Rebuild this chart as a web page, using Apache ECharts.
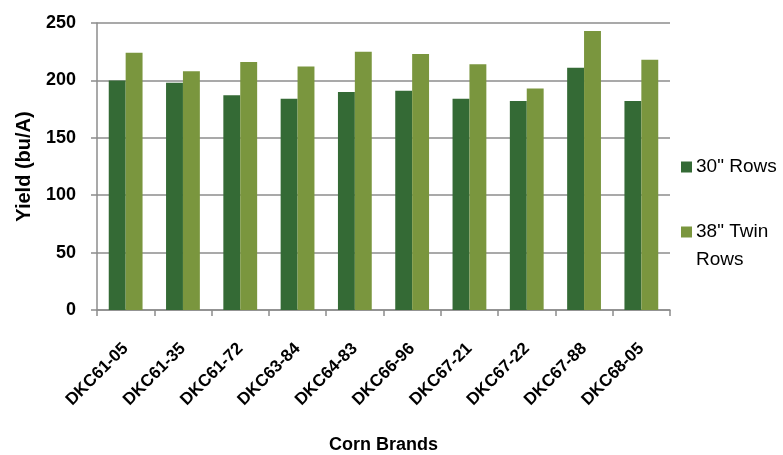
<!DOCTYPE html>
<html>
<head>
<meta charset="utf-8">
<script src="https://cdn.jsdelivr.net/npm/echarts@6/dist/echarts.min.js"></script>
<style>
  html, body { margin: 0; padding: 0; background: #fff; }
  #chart { width: 783px; height: 455px; }
</style>
</head>
<body>
<div id="chart"></div>
<script>
const categories = ['DKC61-05', 'DKC61-35', 'DKC61-72', 'DKC63-84', 'DKC64-83', 'DKC66-96', 'DKC67-21', 'DKC67-22', 'DKC67-88', 'DKC68-05'];
const rows30 = [200, 198, 187, 184, 190, 191, 184, 182, 211, 182];
const twin38 = [224, 208, 216, 212, 225, 223, 214, 193, 243, 218];
const seriesNames = ['30" Rows', '38" Twin Rows'];
const yTicks = [0, 50, 100, 150, 200, 250];

const FONT = '"Liberation Sans", Arial, sans-serif';
const chart = echarts.init(document.getElementById('chart'));
chart.setOption({
  animation: false,
  backgroundColor: '#ffffff',
  grid: { left: 97, right: 113, top: 23, bottom: 145, containLabel: false, outerBoundsMode: 'none' },
  legend: {
    orient: 'vertical',
    left: 676,
    top: 148,
    itemWidth: 11,
    itemHeight: 11,
    itemGap: 9,
    icon: 'rect',
    data: seriesNames,
    formatter: function (name) {
      return name === seriesNames[1] ? '\n38" Twin\nRows' : name;
    },
    textStyle: { fontFamily: FONT, fontSize: 19, color: '#000', lineHeight: 28, padding: [0, 0, 0, -1] }
  },
  xAxis: {
    type: 'category',
    data: categories,
    name: 'Corn Brands',
    nameLocation: 'middle',
    nameGap: 126,
    nameTextStyle: { fontFamily: FONT, fontSize: 18, fontWeight: 'bold', color: '#000' },
    axisLine: { lineStyle: { color: '#8c8c8c', width: 1.5 } },
    axisTick: { show: true, length: 6, lineStyle: { color: '#8c8c8c', width: 1.5 } },
    axisLabel: { rotate: 45, margin: 36, fontFamily: FONT, fontSize: 17, fontWeight: 'bold', color: '#000', interval: 0 }
  },
  yAxis: {
    type: 'value',
    min: yTicks[0],
    max: yTicks[yTicks.length - 1],
    interval: 50,
    name: 'Yield (bu/A)',
    nameLocation: 'middle',
    nameGap: 63,
    nameTextStyle: { fontFamily: FONT, fontSize: 20, fontWeight: 'bold', color: '#000' },
    axisLine: { show: true, lineStyle: { color: '#8c8c8c', width: 1.5 } },
    axisTick: { show: true, length: 6, lineStyle: { color: '#8c8c8c', width: 1.5 } },
    splitLine: { lineStyle: { color: '#8c8c8c', width: 1.5 } },
    axisLabel: { margin: 21, fontFamily: FONT, fontSize: 18, fontWeight: 'bold', color: '#000' }
  },
  series: [
    {
      name: seriesNames[0], type: 'bar', data: rows30,
      itemStyle: { color: '#346a35' },
      barGap: '0%', barCategoryGap: '41%'
    },
    {
      name: seriesNames[1], type: 'bar', data: twin38,
      itemStyle: { color: '#7a963e' },
      barGap: '0%', barCategoryGap: '41%'
    }
  ]
});
</script>
</body>
</html>
